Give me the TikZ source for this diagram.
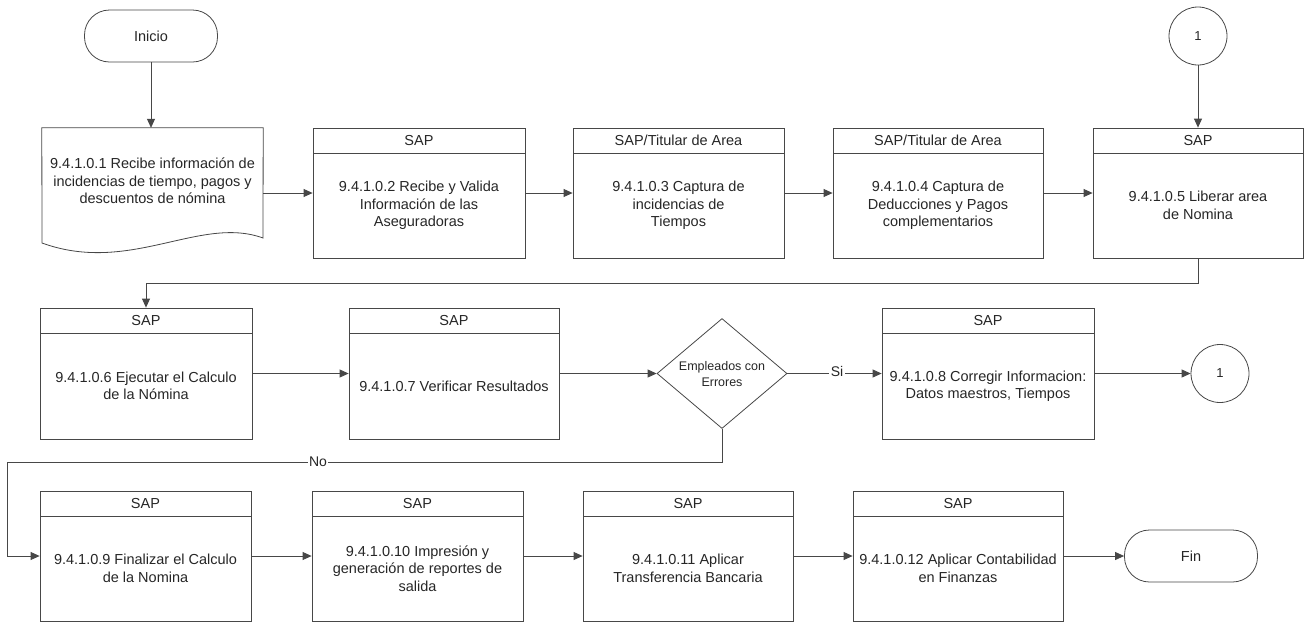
\documentclass[tikz,border=0pt]{standalone}
\usepackage{fontspec}
\setmainfont{Liberation Sans}
\usetikzlibrary{arrows.meta,shapes.geometric,fit}
\tikzset{
  ln/.style={draw=black!72, line width=0.8pt},
  arr/.style={ln, -{Triangle[length=9pt,width=8pt]}},
  fitbox/.style={ln, rectangle, inner sep=0pt},
  hdrtxt/.style={font=\fontsize{14.5}{17.5}\selectfont, inner sep=0pt, text=black!85},
  bodytxt/.style={font=\fontsize{14.5}{17.5}\selectfont, align=center, inner sep=0pt, text=black!85},
  term/.style={ln, rectangle, rounded corners=25pt, minimum width=133pt, minimum height=52pt,
    inner sep=0pt, font=\fontsize{14.5}{17.5}\selectfont, text=black!85},
  conn/.style={ln, circle, minimum size=58pt, inner sep=0pt, font=\fontsize{13}{15}\selectfont, text=black!85},
  dec/.style={ln, diamond, minimum width=130pt, minimum height=110pt, inner sep=0pt},
  dectxt/.style={font=\fontsize{12.5}{15.5}\selectfont, align=center, inner sep=0pt, text=black!85},
  lbl/.style={fill=white, inner sep=1.5pt, font=\fontsize{14}{16}\selectfont, text=black!85}
}
% name, x1, x2, ytop, yheader, ybottom, header, body
\newcommand\procbox[8]{%
  \node[fitbox, fit={(#2,#4) (#3,#6)}] (#1) {};
  \draw[ln] (#2,#5) -- (#3,#5);
  \node[hdrtxt] (#1h) at ({(#2+#3)/2},{(#4+#5)/2}) {#7};
  \node[bodytxt] (#1t) at ({(#2+#3)/2},{(#5+#6)/2}) {#8};
}
\begin{document}
\begin{tikzpicture}[x=1pt, y=-1pt]
\useasboundingbox (0,0) rectangle (1304,622);

% Row 1
\node[term] (ini) at (151,36) {Inicio};
\node[inner sep=0pt, fit={(42,128) (263,258)}] (b1) {};
\draw[ln] (b1.north west) -- (b1.north east) -- (263,238)
  .. controls (200,215) and (130,275) .. (42,243) -- cycle;
\node[bodytxt] (b1t) at (152.5,181) {9.4.1.0.1 Recibe información de\\incidencias de tiempo, pagos y\\descuentos de nómina};

\procbox{b2}{313}{525}{128}{153}{258}{SAP}{9.4.1.0.2 Recibe y Valida\\Información de las\\Aseguradoras}
\procbox{b3}{573}{784}{128}{153}{258}{SAP/Titular de Area}{9.4.1.0.3 Captura de\\incidencias de\\Tiempos}
\procbox{b4}{833}{1043}{128}{153}{258}{SAP/Titular de Area}{9.4.1.0.4 Captura de\\Deducciones y Pagos\\complementarios}
\procbox{b5}{1093}{1303}{128}{153}{258}{SAP}{9.4.1.0.5 Liberar area\\de Nomina}
\node[conn] (c1) at (1198,36) {1};

% Row 2
\procbox{b6}{40}{252}{308}{333}{439}{SAP}{9.4.1.0.6 Ejecutar el Calculo\\de la Nómina}
\procbox{b7}{349}{559}{308}{333}{439}{SAP}{9.4.1.0.7 Verificar Resultados}
\node[dec] (d) at (722,373.5) {};
\node[dectxt] (dt) at (722,374) {Empleados con\\Errores};
\procbox{b8}{882}{1094}{308}{333}{439}{SAP}{9.4.1.0.8 Corregir Informacion:\\Datos maestros, Tiempos}
\node[conn] (c2) at (1220,373.5) {1};

% Row 3
\procbox{b9}{40}{251}{491}{516}{621}{SAP}{9.4.1.0.9 Finalizar el Calculo\\de la Nomina}
\procbox{b10}{312}{523}{491}{516}{621}{SAP}{9.4.1.0.10 Impresión y\\generación de reportes de\\salida}
\procbox{b11}{583}{793}{491}{516}{621}{SAP}{9.4.1.0.11 Aplicar\\Transferencia Bancaria}
\procbox{b12}{853}{1063}{491}{516}{621}{SAP}{9.4.1.0.12 Aplicar Contabilidad\\en Finanzas}
\node[term] (fin) at (1191,556) {Fin};

% Connectors
\coordinate (cNo) at (7,462);
\draw[arr] (ini.south) -- (ini.south |- b1.north);
\draw[arr] (b1.east) -- (b2.west);
\draw[arr] (b2.east) -- (b3.west);
\draw[arr] (b3.east) -- (b4.west);
\draw[arr] (b4.east) -- (b5.west);
\draw[arr] (c1.south) -- (c1.south |- b5.north);
\draw[arr] (b5.south) -- ++(0,25) -| (b6.north);
\draw[arr] (b6.east) -- (b7.west);
\draw[arr] (b7.east) -- (d.west);
\draw[arr] (d.east) -- (b8.west);
\draw[arr] (b8.east) -- (c2.west);
\draw[arr] (d.south) |- (cNo) |- (b9.west);
\draw[arr] (b9.east) -- (b10.west);
\draw[arr] (b10.east) -- (b11.west);
\draw[arr] (b11.east) -- (b12.west);
\draw[arr] (b12.east) -- (fin.west);

\node[lbl] (lsi) at (837,371) {Si};
\node[lbl] (lno) at (318,462) {No};
\end{tikzpicture}
\end{document}
